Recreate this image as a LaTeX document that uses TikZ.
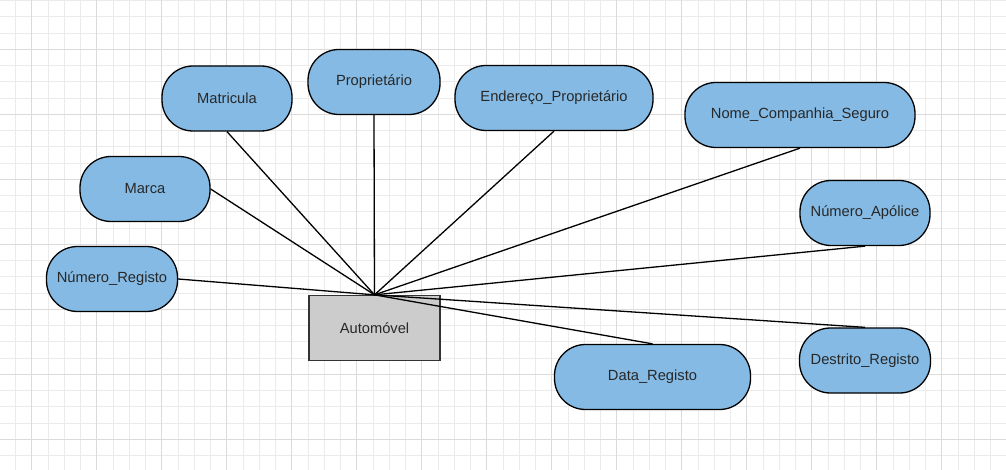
\documentclass[tikz,border=0pt]{standalone}
\usepackage{fontspec}
\setmainfont{Liberation Sans}
\definecolor{attrblue}{HTML}{84BAE4}
\definecolor{entgray}{HTML}{CCCCCC}
\definecolor{txtgray}{HTML}{282828}
\tikzset{
  attr/.style={draw=black, line width=1.3pt, fill=attrblue, rounded corners=31pt,
    minimum height=65pt, inner sep=0pt, text=txtgray, font=\fontsize{14.7}{16}\selectfont},
  entity/.style={draw=black!80, line width=1.3pt, fill=entgray, minimum width=131pt,
    minimum height=65pt, inner sep=0pt, text=txtgray, font=\fontsize{14.7}{16}\selectfont},
  link/.style={line width=1.3pt},
  minorgrid/.style={draw=black!8, line width=0.8pt},
  majorgrid/.style={draw=black!14, line width=1pt}
}

\begin{document}
\begin{tikzpicture}[x=1pt, y=-1pt]
\useasboundingbox (0,0) rectangle (1006,470);
\fill[white] (0,0) rectangle (1006,470);
% grid
\foreach \k in {0,...,61} {\draw[minorgrid] ({15.45+16.25*\k},0) -- ++(0,470);}
\foreach \k in {0,...,28} {\draw[minorgrid] (0,{0.55+16.25*\k}) -- ++(1006,0);}
\foreach \k in {0,...,15} {\draw[majorgrid] ({31.7+65*\k},0) -- ++(0,470);}
\foreach \k in {0,...,6} {\draw[majorgrid] (0,{49.3+65*\k}) -- ++(1006,0);}

% entity
\node[entity] (auto) at (374.5,328) {Automóvel};
\coordinate (hub) at (auto.north);

% attributes
\node[attr, minimum width=130pt] (matricula) at (227,98.5) {Matricula};
\node[attr, minimum width=132pt] (proprietario) at (374,82) {Proprietário};
\node[attr, minimum width=198pt] (endereco) at (554,98) {Endereço\_Proprietário};
\node[attr, minimum width=230pt] (seguro) at (800,115) {Nome\_Companhia\_Seguro};
\node[attr, minimum width=130pt] (marca) at (145,189) {Marca};
\node[attr, minimum width=131pt] (numreg) at (112,279) {Número\_Registo};
\node[attr, minimum width=130pt] (apolice) at (865,213) {Número\_Apólice};
\node[attr, minimum width=196pt] (data) at (652.5,377) {Data\_Registo};
\node[attr, minimum width=131pt] (destrito) at (865,360.5) {Destrito\_Registo};

% links
\draw[link] (hub) -- (matricula.south);
\draw[link] (hub) -- (proprietario.south);
\draw[link] (hub) -- (endereco.south);
\draw[link] (hub) -- (seguro.south);
\draw[link] (hub) -- (marca.east);
\draw[link] (hub) -- (numreg.east);
\draw[link] (hub) -- (apolice.south);
\draw[link] (hub) -- (data.north);
\draw[link] (hub) -- (destrito.north);
\end{tikzpicture}
\end{document}
